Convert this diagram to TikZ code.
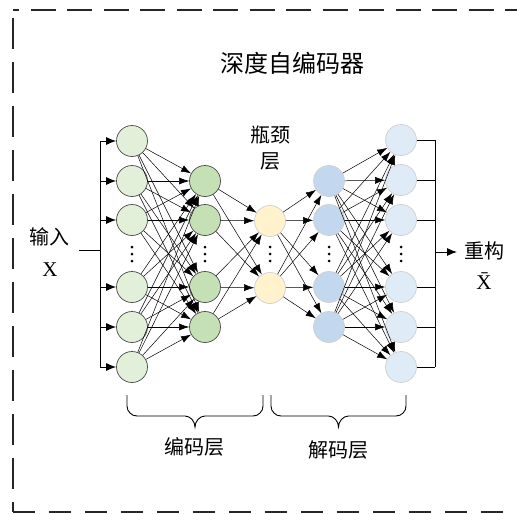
\documentclass[tikz,border=0pt]{standalone}
\usepackage{fontspec}
\setmainfont{Liberation Serif}
\newfontfamily\cjk{Noto Sans CJK SC}
\usetikzlibrary{arrows.meta}
\definecolor{gA}{HTML}{E2EFD9}
\definecolor{gB}{HTML}{C5E0B4}
\definecolor{yC}{HTML}{FFF2CC}
\definecolor{bD}{HTML}{C3D8EE}
\definecolor{bE}{HTML}{DFEBF7}
\definecolor{rimdark}{HTML}{4A4A4A}
\definecolor{rimlight}{HTML}{D0D0D0}
\begin{document}
\begin{tikzpicture}[x=1pt,y=-1pt,
  neuron/.style={circle,minimum size=31pt,inner sep=0pt,line width=0.7pt},
  nA/.style={neuron,fill=gA,draw=rimdark},
  nB/.style={neuron,fill=gB,draw=rimdark},
  nC/.style={neuron,fill=yC,draw=rimlight},
  nD/.style={neuron,fill=bD,draw=rimlight},
  nE/.style={neuron,fill=bE,draw=rimlight},
  conn/.style={line width=0.5pt,-{Latex[length=10pt,width=7pt]}},
  bus/.style={line width=1pt},
  busarrow/.style={line width=1pt,-{Latex[length=10pt,width=8pt]}},
  lbl/.style={font=\cjk\fontsize{20}{24}\selectfont,inner sep=0pt},
  xlbl/.style={font=\fontsize{21}{24}\selectfont,inner sep=0pt},
  brace/.style={line width=0.9pt},
  border/.style={line width=1.6pt,draw=black!85}
]
\useasboundingbox (0,0) rectangle (517,514);
\clip (0,0) rectangle (517,514);
% dashed frame
\draw[border,dash pattern=on 25pt off 11.5pt,dash phase=19pt] (13,10) -- (540,10);
\draw[border,dash pattern=on 31pt off 13pt,dash phase=36pt] (13,10) -- (13,512);
\draw[border,dash pattern=on 22pt off 14pt] (13,512) -- (540,512);

% title
\node[lbl,font=\cjk\fontsize{24}{28}\selectfont] (title) at (292,63) {深度自编码器};

% layers
\foreach \i/\y in {1/141,2/181,3/220,4/287,5/327,6/367}
  \node[nA] (a\i) at (132,\y) {};
\foreach \i/\y in {1/181,2/220,3/287,4/327}
  \node[nB] (b\i) at (205,\y) {};
\foreach \i/\y in {1/221,2/288}
  \node[nC] (c\i) at (270,\y) {};
\foreach \i/\y in {1/181,2/220,3/287,4/327}
  \node[nD] (d\i) at (329,\y) {};
\foreach \i/\y in {1/140,2/180,3/220,4/287,5/327,6/367}
  \node[nE] (e\i) at (401,\y) {};

% dots
\foreach \x in {132,205,270,329,401}
  \foreach \d in {-7,0,7}
    \fill (\x,254+\d) circle (1.5);

% connections
\foreach \i in {1,...,6}
  \foreach \j in {1,...,4}
    \draw[conn] (a\i) -- (b\j);
\foreach \i in {1,...,4}
  \foreach \j in {1,2}
    \draw[conn] (b\i) -- (c\j);
\foreach \i in {1,2}
  \foreach \j in {1,...,4}
    \draw[conn] (c\i) -- (d\j);
\foreach \i in {1,...,4}
  \foreach \j in {1,...,6}
    \draw[conn] (d\i) -- (e\j);

% input bus
\coordinate (inS) at (79,250);
\coordinate (inJ) at (100,250);
\coordinate (inT) at (100,141);
\coordinate (inB) at (100,367);
\draw[bus] (inS) -- (inJ);
\draw[bus] (inT) -- (inB);
\foreach \i in {1,...,6}
  \draw[busarrow] (inT |- a\i) -- (a\i);

% output bus
\coordinate (outT) at (435,140);
\coordinate (outB) at (435,367);
\coordinate (outJ) at (435,252);
\coordinate (outE) at (457,252);
\draw[bus] (outT) -- (outB);
\foreach \i in {1,...,6}
  \draw[bus] (e\i) -- (outT |- e\i);
\draw[busarrow] (outJ) -- (outE);

% labels
\node[lbl] (inlbl) at (50,237) {输入};
\node[xlbl] (inx) at (50,270) {X};
\node[lbl] (outlbl) at (484,251) {重构};
\node[xlbl] (outx) at (484,281) {X̄};
\node[lbl] (bn1) at (270,135) {瓶颈};
\node[lbl] (bn2) at (270,161) {层};

% braces
\draw[brace] (127,395) -- (127,406) .. controls (127,411.5) and (131.5,416) .. (137,416)
  -- (185,416) .. controls (190.5,416) and (195,421.5) .. (195,427)
  .. controls (195,421.5) and (199.5,416) .. (205,416)
  -- (253,416) .. controls (258.5,416) and (263,411.5) .. (263,406) -- (263,395);
\draw[brace] (271,395) -- (271,406) .. controls (271,411.5) and (275.5,416) .. (281,416)
  -- (328.5,416) .. controls (334,416) and (338.5,421.5) .. (338.5,427)
  .. controls (338.5,421.5) and (343,416) .. (348.5,416)
  -- (396,416) .. controls (401.5,416) and (406,411.5) .. (406,406) -- (406,395);
\node[lbl] (enc) at (194,447) {编码层};
\node[lbl] (dec) at (338,450) {解码层};
\end{tikzpicture}
\end{document}
